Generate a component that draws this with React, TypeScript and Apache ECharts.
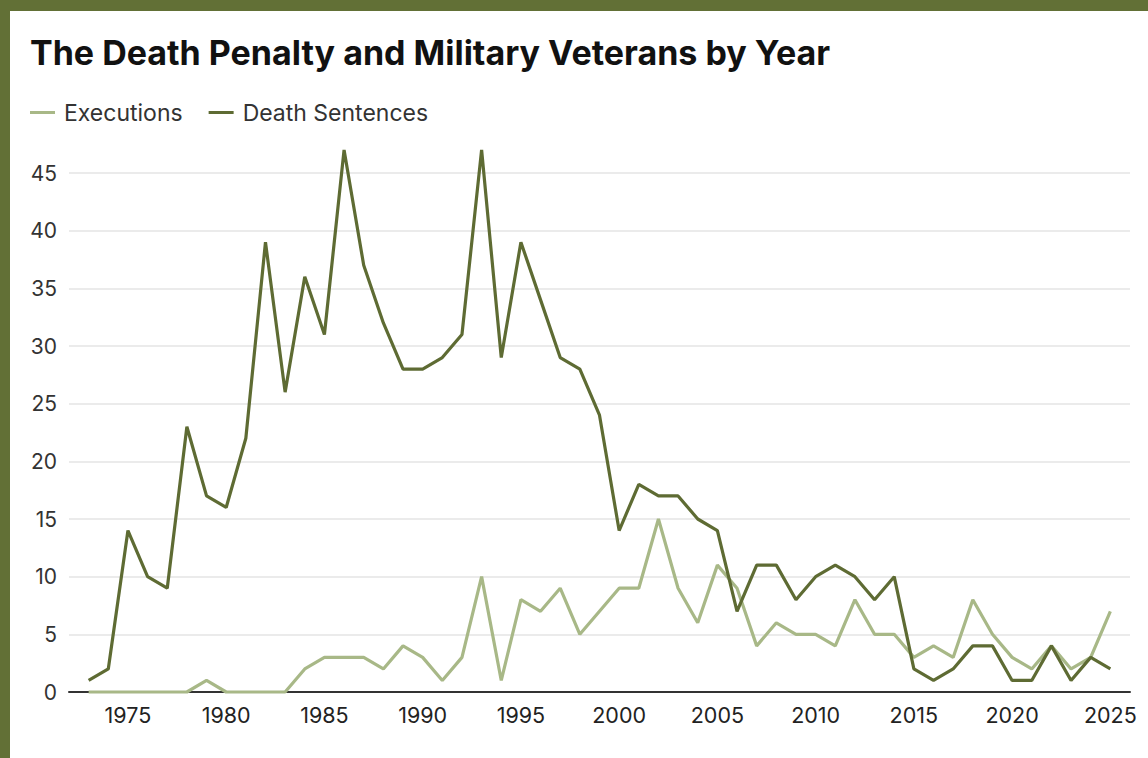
import React, { useEffect, useRef } from "react";
import * as echarts from "echarts";

const years: number[] = [];
for (let y = 1973; y <= 2025; y++) years.push(y);

const executions = [
  0, 0, 0, 0, 0, 0, 1, 0, 0, 0, 0, 2, 3, 3, 3, 2, 4, 3, 1, 3, 10, 1, 8, 7, 9, 5, 7,
  9, 9, 15, 9, 6, 11, 9, 4, 6, 5, 5, 4, 8, 5, 5, 3, 4, 3, 8, 5, 3, 2, 4, 2, 3, 7,
];

const deathSentences = [
  1, 2, 14, 10, 9, 23, 17, 16, 22, 39, 26, 36, 31, 47, 37, 32, 28, 28, 29, 31, 47, 29,
  39, 34, 29, 28, 24, 14, 18, 17, 17, 15, 14, 7, 11, 11, 8, 10, 11, 10, 8, 10, 2, 1, 2,
  4, 4, 1, 1, 4, 1, 3, 2,
];

const titleText = "The Death Penalty and Military Veterans by Year";
const seriesNames = ["Executions", "Death Sentences"];

const FONT = "Inter, 'Liberation Sans', Arial, sans-serif";

export default function App() {
  const ref = useRef<HTMLDivElement>(null);

  useEffect(() => {
    if (!ref.current) return;
    const chart = echarts.init(ref.current, undefined, { renderer: "svg" });
    const exeData = years.map((y, i) => [y, executions[i]]);
    const dsData = years.map((y, i) => [y, deathSentences[i]]);
    chart.setOption({
      animation: false,
      backgroundColor: "#627036",
      graphic: [
        {
          type: "rect",
          shape: { x: 10, y: 11, width: 1160, height: 780 },
          style: { fill: "#ffffff" },
          z: -10,
        },
      ],
      title: {
        text: titleText,
        left: 25,
        top: 30,
        textStyle: {
          fontFamily: FONT,
          fontSize: 34,
          fontWeight: "bold",
          color: "#111111",
        },
      },
      legend: {
        left: 25,
        top: 96,
        icon: "rect",
        itemWidth: 25,
        itemHeight: 3,
        itemGap: 26,
        textStyle: {
          fontFamily: FONT,
          fontSize: 23,
          color: "#333333",
          padding: [0, 0, 0, 4],
        },
        data: seriesNames,
      },
      grid: { left: 69, right: 18, top: 173, bottom: 66 },
      xAxis: {
        type: "value",
        min: 1972,
        max: 2026,
        interval: 1,
        axisLine: { show: true, lineStyle: { color: "#333333", width: 2 } },
        axisTick: { show: false },
        splitLine: { show: false },
        axisLabel: {
          fontFamily: FONT,
          fontSize: 21.5,
          color: "#222222",
          margin: 12,
          showMinLabel: true,
          showMaxLabel: true,
          formatter: (v: number) => (v % 5 === 0 ? String(v) : ""),
        },
      },
      yAxis: {
        type: "value",
        min: 0,
        max: 45,
        interval: 5,
        axisLine: { show: false },
        axisTick: { show: false },
        splitLine: { show: true, lineStyle: { color: "#e5e5e5", width: 1.5 } },
        axisLabel: {
          fontFamily: FONT,
          fontSize: 21,
          color: "#333333",
          margin: 12,
        },
      },
      series: [
        {
          name: seriesNames[0],
          type: "line",
          data: exeData,
          clip: false,
          showSymbol: false,
          symbol: "none",
          lineStyle: { color: "#a8b887", width: 3.2 },
          itemStyle: { color: "#a8b887" },
          z: 2,
        },
        {
          name: seriesNames[1],
          type: "line",
          data: dsData,
          clip: false,
          showSymbol: false,
          symbol: "none",
          lineStyle: { color: "#5e6b33", width: 3.2 },
          itemStyle: { color: "#5e6b33" },
          z: 3,
        },
      ],
    });
    return () => chart.dispose();
  }, []);

  return (
    <div
      ref={ref}
      style={{ position: "fixed", left: 0, top: 0, width: 1148, height: 758 }}
    />
  );
}
